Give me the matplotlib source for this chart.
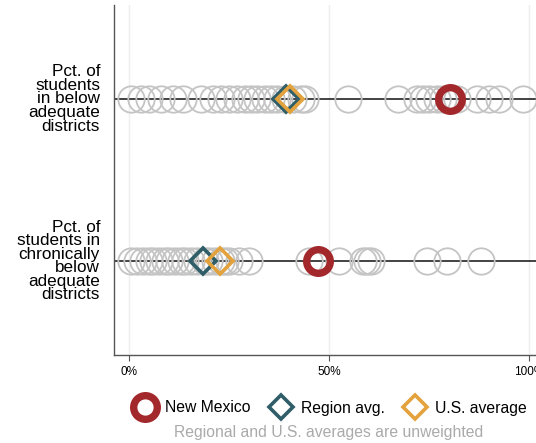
import matplotlib
matplotlib.use("Agg")
import matplotlib.pyplot as plt
from matplotlib.lines import Line2D

plt.rcParams['font.family'] = ['Liberation Sans', 'DejaVu Sans']

# Row labels (top to bottom)
row_labels = [
    "Pct. of\nstudents\nin below\nadequate\ndistricts",
    "Pct. of\nstudents in\nchronically\nbelow\nadequate\ndistricts",
]

# Every state's value for each measure (percent)
states_below = [0.5, 3, 5, 8, 11, 13.5, 18, 21, 23, 25, 27, 29, 30.5, 32, 34,
                35.5, 37, 39, 41, 43, 44, 54.75, 67.25, 72, 73.5, 75, 77,
                78.5, 80, 82, 87, 90, 92.5, 98.5]
states_chronic = [0.5, 2, 3.5, 5, 6, 7.5, 9, 10, 11.5, 13, 14, 15.5, 17, 19,
                  20, 21.5, 23, 24, 25, 27.5, 30, 45, 52.5, 58.5, 59.5, 60.5,
                  74.5, 79.5, 88]

new_mexico = [80.25, 47.3]
region_avg = [39.3, 18.5]
us_avg = [40.2, 22.8]

x_ticks = [0, 50, 100]
x_tick_labels = ["0%", "50%", "100%"]

RED = "#a3282c"
TEAL = "#2f5d68"
ORANGE = "#e3a23c"
GRAY = "#c4c4c4"

fig = plt.figure(figsize=(5.36, 4.43), dpi=100)
ax = fig.add_axes([114 / 536, 1 - 355 / 443, 1 - 114 / 536, (355 - 5) / 443])

ypos = [2, 1]
for y, vals in zip(ypos, [states_below, states_chronic]):
    ax.axhline(y, color="#222222", lw=1.2, zorder=1)
    ax.plot(vals, [y] * len(vals), ls="none", marker="o", ms=19,
            mfc="none", mec=GRAY, mew=1.3, zorder=2)

ax.plot(region_avg, ypos, ls="none", marker="D", ms=13.5, mfc="none",
        mec=TEAL, mew=2.6, zorder=3)
ax.plot(us_avg, ypos, ls="none", marker="D", ms=13.5, mfc="none",
        mec=ORANGE, mew=2.6, zorder=4)
ax.plot(new_mexico, ypos, ls="none", marker="o", ms=17, mfc="none",
        mec=RED, mew=5.3, zorder=5)

ax.set_xlim(-3.75, 101.75)
ax.set_ylim(0.42, 2.58)
ax.set_xticks(x_ticks)
ax.set_xticklabels(x_tick_labels, fontsize=8.5)
ax.set_yticks(ypos)
ax.set_yticklabels(row_labels, fontsize=12.3, linespacing=0.88,
                   ha="right", va="center")
ax.tick_params(axis="y", length=0, pad=10)
ax.tick_params(axis="x", length=4, width=0.8, color="#555555", pad=4)
for x in x_ticks:
    ax.axvline(x, color="#eeeeee", lw=1, zorder=0)

for side in ["top", "right"]:
    ax.spines[side].set_visible(False)
for side in ["left", "bottom"]:
    ax.spines[side].set_color("#555555")
    ax.spines[side].set_linewidth(1.0)

handles = [
    Line2D([], [], ls="none", marker="o", ms=17, mfc="none", mec=RED, mew=5.3),
    Line2D([], [], ls="none", marker="D", ms=12, mfc="none", mec=TEAL, mew=2.6),
    Line2D([], [], ls="none", marker="D", ms=12, mfc="none", mec=ORANGE, mew=2.6),
]
fig.legend(handles, ["New Mexico", "Region avg.", "U.S. average"],
           loc="center", bbox_to_anchor=(330 / 536, 1 - 408 / 443), ncol=3,
           frameon=False, fontsize=11.3, handletextpad=0.5, columnspacing=1.2,
           handlelength=1.5)
fig.text(329 / 536, 1 - 432 / 443, "Regional and U.S. averages are unweighted",
         ha="center", va="center", fontsize=11.3, color="#aaaaaa")

fig.savefig("out.png", dpi=100)
